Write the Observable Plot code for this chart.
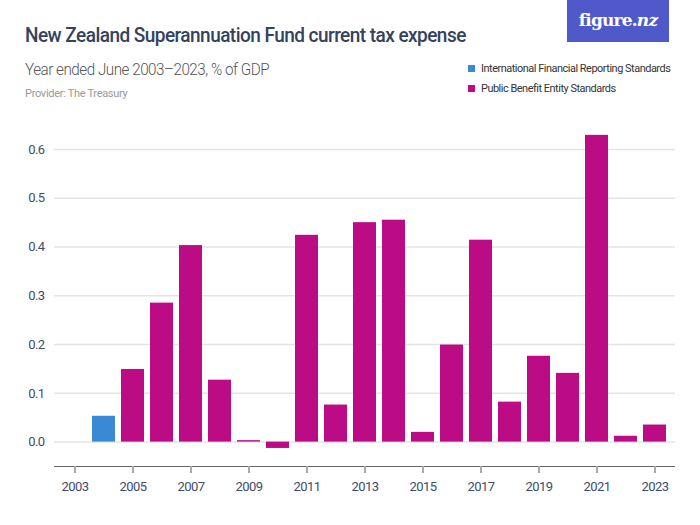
<!DOCTYPE html>
<html>
<head>
<meta charset="utf-8">
<script src="https://cdn.jsdelivr.net/npm/d3@7"></script>
<script src="https://cdn.jsdelivr.net/npm/@observablehq/plot@0.6"></script>
<style>
  html, body { margin: 0; padding: 0; background: #fff; }
  #wrap { position: relative; width: 700px; height: 525px; overflow: hidden; font-family: Roboto, sans-serif; }
  #title { position: absolute; left: 25px; top: 23px; font-size: 21px; color: #34425e; font-weight: 500; letter-spacing: -0.6px; white-space: nowrap; transform: scaleX(0.905); transform-origin: left top; }
  #subtitle { position: absolute; left: 25px; top: 60px; font-size: 16px; color: #555; font-weight: 300; letter-spacing: -0.5px; white-space: nowrap; transform: scaleX(0.95); transform-origin: left top; }
  #provider { position: absolute; left: 25px; top: 87px; font-size: 11px; color: #999; letter-spacing: -0.3px; white-space: nowrap; }
  #logo { position: absolute; left: 567px; top: 0; width: 102px; height: 42px; background: #5059c9; color: #fff; font-family: "DejaVu Serif", "Liberation Serif", serif; font-weight: bold; font-size: 17px; text-align: center; line-height: 40px; letter-spacing: -0.8px; }
  #logo i { font-weight: bold; }
  #legend { position: absolute; left: 468px; top: 58px; font-size: 11.5px; color: #333; letter-spacing: -0.5px; }
  #legend div { display: flex; align-items: center; height: 20px; white-space: nowrap; }
  #legend span.txt { display: inline-block; transform: scaleX(0.95); transform-origin: left center; }
  #legend span.sw { display: inline-block; width: 7px; height: 7px; margin-right: 6px; }
  #chart { position: absolute; left: 0; top: 110px; }
</style>
</head>
<body>
<div id="wrap">
  <div id="title">New Zealand Superannuation Fund current tax expense</div>
  <div id="subtitle">Year ended June 2003–2023, % of GDP</div>
  <div id="provider">Provider: The Treasury</div>
  <div id="logo">figure.<i>nz</i></div>
  <div id="legend"></div>
  <div id="chart"></div>
</div>
<script>
const years = [2003, 2004, 2005, 2006, 2007, 2008, 2009, 2010, 2011, 2012, 2013,
               2014, 2015, 2016, 2017, 2018, 2019, 2020, 2021, 2022, 2023];
const barYears = [2004, 2005, 2006, 2007, 2008, 2009, 2010, 2011, 2012, 2013,
                  2014, 2015, 2016, 2017, 2018, 2019, 2020, 2021, 2022, 2023];
const values = [0.053, 0.149, 0.285, 0.403, 0.127, 0.003, -0.013, 0.424, 0.076, 0.450,
                0.455, 0.020, 0.199, 0.414, 0.082, 0.176, 0.141, 0.629, 0.012, 0.035];
const standards = ["International Financial Reporting Standards",
  "Public Benefit Entity Standards", "Public Benefit Entity Standards", "Public Benefit Entity Standards",
  "Public Benefit Entity Standards", "Public Benefit Entity Standards", "Public Benefit Entity Standards",
  "Public Benefit Entity Standards", "Public Benefit Entity Standards", "Public Benefit Entity Standards",
  "Public Benefit Entity Standards", "Public Benefit Entity Standards", "Public Benefit Entity Standards",
  "Public Benefit Entity Standards", "Public Benefit Entity Standards", "Public Benefit Entity Standards",
  "Public Benefit Entity Standards", "Public Benefit Entity Standards", "Public Benefit Entity Standards",
  "Public Benefit Entity Standards"];
const seriesNames = ["International Financial Reporting Standards", "Public Benefit Entity Standards"];
const seriesColors = ["#3a89d4", "#bb0c86"];
const xTicks = [2003, 2005, 2007, 2009, 2011, 2013, 2015, 2017, 2019, 2021, 2023];
const yTicks = [0, 0.1, 0.2, 0.3, 0.4, 0.5, 0.6];

const data = barYears.map((y, i) => ({year: y, value: values[i], standard: standards[i]}));

const legend = document.getElementById("legend");
seriesNames.forEach((n, i) => {
  const d = document.createElement("div");
  d.innerHTML = `<span class="sw" style="background:${seriesColors[i]}"></span><span class="txt">${n}</span>`;
  legend.appendChild(d);
});

const chart = Plot.plot({
  width: 700,
  height: 415,
  marginLeft: 54,
  marginRight: 25,
  marginTop: 14.6,
  marginBottom: 59,
  style: {fontFamily: "Roboto, sans-serif", fontSize: "13px", color: "#3d4d6a", background: "transparent", letterSpacing: "-0.6px"},
  x: {type: "band", domain: years, paddingInner: 0.21, paddingOuter: 0.29, label: null},
  y: {domain: [-0.05, 0.65], label: null},
  color: {domain: seriesNames, range: seriesColors},
  marks: [
    Plot.ruleY(yTicks, {stroke: "#e4e4e4", strokeWidth: 1.5}),
    Plot.barY(data, {x: "year", y: "value", fill: "standard"}),
    Plot.ruleY([-0.05], {stroke: "#666", strokeWidth: 1}),
    Plot.axisY({ticks: yTicks, tickSize: 0, tickPadding: 10, tickFormat: d3.format(".1f"), fill: "#3d4d6a"}),
    Plot.axisX({ticks: xTicks, tickSize: 7, tickPadding: 8, stroke: "#aaa", strokeWidth: 2, fill: "#3d4d6a", tickFormat: d => String(d)})
  ]
});
document.getElementById("chart").appendChild(chart);
</script>
</body>
</html>
